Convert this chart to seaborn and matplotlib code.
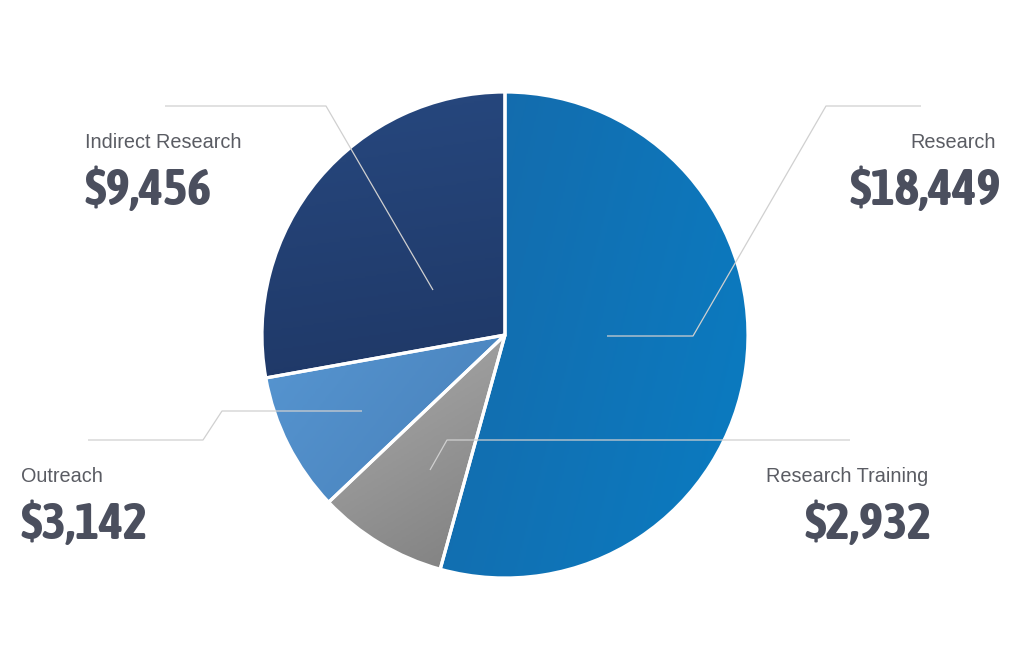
import numpy as np
import matplotlib
matplotlib.use("Agg")
import matplotlib.pyplot as plt
from matplotlib import font_manager
from matplotlib.colors import LinearSegmentedColormap
import seaborn as sns

# ---- data ----
categories = ["Research", "Research Training", "Outreach", "Indirect Research"]
values = [18449, 2932, 3142, 9456]
value_labels = ["$18,449", "$2,932", "$3,142", "$9,456"]

# gradient colour pairs (start, end) per slice
grad_colors = [("#1a62a0", "#0a7cc2"),
               ("#d2d2d2", "#6a6a6a"),
               ("#5fa1de", "#3a6ea5"),
               ("#27487f", "#192c54")]
# gradient directions (dx, dy) in data space (y up)
grad_dirs = [(1.0, -0.25), (0.6, -1.0), (1.0, -0.8), (0.15, -1.0)]

sns.set_theme(style="white")
plt.rcParams["font.family"] = ["Liberation Sans", "DejaVu Sans"]


def _w(x):
    if isinstance(x, (int, float)):
        return x
    return font_manager.weight_dict.get(x, 400)


# look for a condensed *bold* face (not DejaVu) for the big numbers
cond_fonts = [f for f in font_manager.fontManager.ttflist
              if ("Narrow" in f.name or "Condensed" in f.name
                  or f.stretch in ("condensed", "semi-condensed")
                  or "ondensed" in f.fname or "Narrow" in f.fname)
              and "DejaVu" not in f.name
              and 600 <= _w(f.weight) <= 750 and f.style == "normal"]
if cond_fonts:
    pick = sorted(cond_fonts, key=lambda f: (abs(_w(f.weight) - 700), f.fname))[0]
    num_prop = font_manager.FontProperties(fname=pick.fname, size=37)
else:
    num_prop = font_manager.FontProperties(family=["Liberation Sans", "DejaVu Sans"],
                                           weight="bold", size=32)

W, H = 1024, 670
fig = plt.figure(figsize=(W / 100, H / 100), dpi=100)
ax = fig.add_axes([0, 0, 1, 1])
ax.set_axis_off()

cx, cy, R = 505, 335, 243
wedges, _ = ax.pie(values, center=(cx, cy), radius=R, startangle=90,
                   counterclock=False,
                   wedgeprops=dict(facecolor="none", edgecolor="white",
                                   linewidth=2.3, zorder=3))

# gradient fills clipped to each wedge
xs = np.linspace(cx - R, cx + R, 300)
ys = np.linspace(cy - R, cy + R, 300)
X, Y = np.meshgrid(xs, ys)
for w, (c0, c1), (dx, dy) in zip(wedges, grad_colors, grad_dirs):
    d = np.array([dx, dy]) / np.hypot(dx, dy)
    P = (X - cx) * d[0] + (Y - cy) * d[1]
    P = (P - P.min()) / (P.max() - P.min())
    cmap = LinearSegmentedColormap.from_list("g", [c0, c1])
    im = ax.imshow(P, extent=(cx - R, cx + R, cy - R, cy + R), origin="lower",
                   cmap=cmap, zorder=2, interpolation="bilinear")
    im.set_clip_path(w)

# leader lines (layout)
line_kw = dict(color="#d0d0d0", lw=0.9, zorder=4, solid_capstyle="butt")
ax.plot([607, 693, 826, 921], [334, 334, 564, 564], **line_kw)
ax.plot([433, 326, 165], [380, 564, 564], **line_kw)
ax.plot([362, 222, 203, 88], [259, 259, 230, 230], **line_kw)
ax.plot([430, 447, 850], [200, 230, 230], **line_kw)

# labels
lab_kw = dict(fontsize=14.3, color="#5a5c63", va="center")
num_kw = dict(fontproperties=num_prop, color="#4b4f5e", va="center")

ax.text(996, 527, categories[0], ha="right", **lab_kw)
ax.text(1001, 479, value_labels[0], ha="right", **num_kw)

ax.text(928, 193, categories[1], ha="right", **lab_kw)
ax.text(932, 145, value_labels[1], ha="right", **num_kw)

ax.text(21, 193, categories[2], ha="left", **lab_kw)
ax.text(20, 145, value_labels[2], ha="left", **num_kw)

ax.text(85, 527, categories[3], ha="left", **lab_kw)
ax.text(84, 479, value_labels[3], ha="left", **num_kw)

ax.set_xlim(0, W)
ax.set_ylim(0, H)
ax.set_aspect("equal")

fig.savefig("out.png", dpi=100, facecolor="white")
